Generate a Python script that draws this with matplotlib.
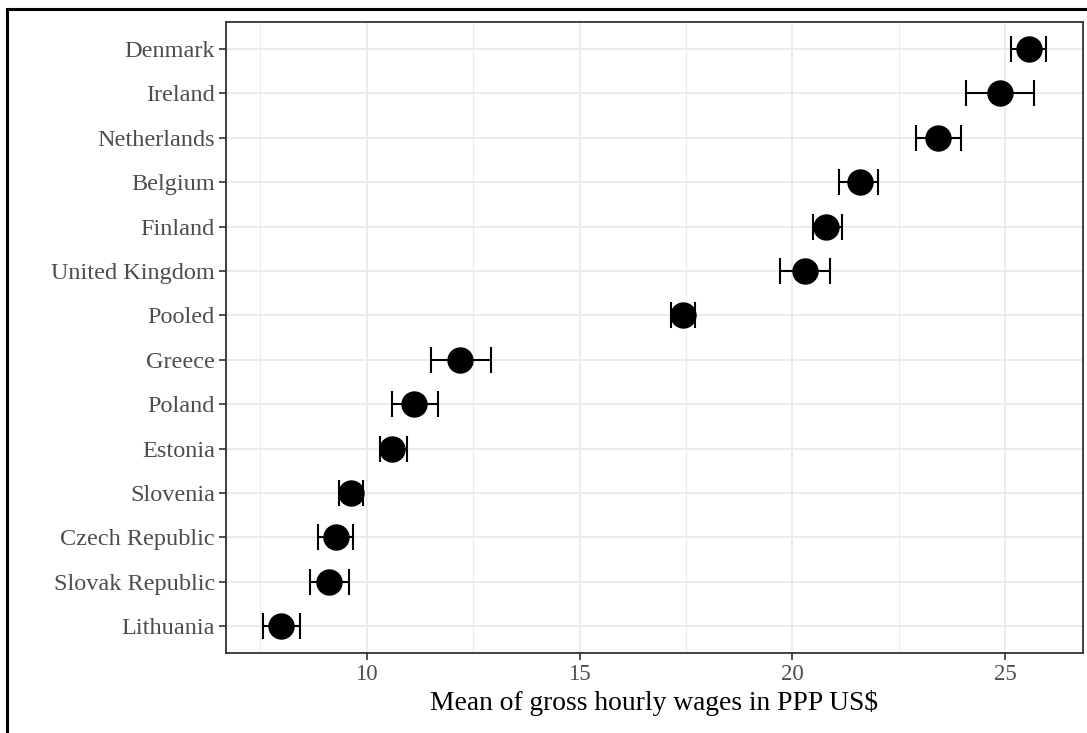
import numpy as np
import matplotlib.pyplot as plt
from matplotlib.lines import Line2D

countries = ["Denmark", "Ireland", "Netherlands", "Belgium", "Finland",
             "United Kingdom", "Pooled", "Greece", "Poland", "Estonia",
             "Slovenia", "Czech Republic", "Slovak Republic", "Lithuania"]
means = [25.56, 24.87, 23.42, 21.58, 20.80, 20.29, 17.44,
         12.19, 11.11, 10.60, 9.62, 9.27, 9.12, 7.99]
lower = [25.13, 24.07, 22.90, 21.10, 20.48, 19.70, 17.15,
         11.51, 10.60, 10.30, 9.34, 8.85, 8.67, 7.56]
upper = [25.95, 25.69, 23.96, 22.01, 21.16, 20.89, 17.72,
         12.91, 11.68, 10.94, 9.92, 9.68, 9.57, 8.44]
x_ticks = [10, 15, 20, 25]
x_minor = [7.5, 12.5, 17.5, 22.5]

plt.rcParams['font.family'] = ['Liberation Serif', 'DejaVu Serif']

fig = plt.figure(figsize=(10.87, 7.33), dpi=100)
ax = fig.add_axes([0.2079, 0.1095, 0.9963 - 0.2079, 0.9696 - 0.1095])

y = np.arange(len(countries), 0, -1)
m = np.array(means)
err = np.vstack([m - np.array(lower), np.array(upper) - m])

ax.errorbar(m, y, xerr=err, fmt='none', ecolor='black', elinewidth=1.5,
            capsize=9.5, capthick=1.5, zorder=3)
ax.plot(m, y, 'o', color='black', markersize=18, zorder=4)

ax.set_xlim(6.69, 26.83)
ax.set_ylim(0.4, len(countries) + 0.6)
ax.set_xticks(x_ticks)
ax.set_xticks(x_minor, minor=True)
ax.set_yticks(y)
ax.set_yticklabels(countries)

ax.grid(True, which='major', color='#EBEBEB', linewidth=1.4, zorder=0)
ax.grid(True, which='minor', axis='x', color='#EBEBEB', linewidth=0.8, zorder=0)
ax.set_axisbelow(True)

ax.tick_params(axis='both', which='major', length=5, width=1.2,
               color='#333333', labelcolor='#4D4D4D', labelsize=16.5, pad=3)
ax.tick_params(axis='y', labelsize=17.5)
ax.tick_params(axis='x', which='minor', length=0)
for s in ax.spines.values():
    s.set_color('#333333')
    s.set_linewidth(1.3)

ax.set_xlabel('Mean of gross hourly wages in PPP US$', fontsize=19.8,
              color='black', labelpad=4)

# outer frame (left and top edges visible in the original)
fig.add_artist(Line2D([6.5 / 1087, 6.5 / 1087], [0, 1 - 8.7 / 733],
                      transform=fig.transFigure, color='black', linewidth=2.2))
fig.add_artist(Line2D([6.5 / 1087, 1], [1 - 8.7 / 733, 1 - 8.7 / 733],
                      transform=fig.transFigure, color='black', linewidth=2.2))

fig.savefig('out.png', dpi=100)
